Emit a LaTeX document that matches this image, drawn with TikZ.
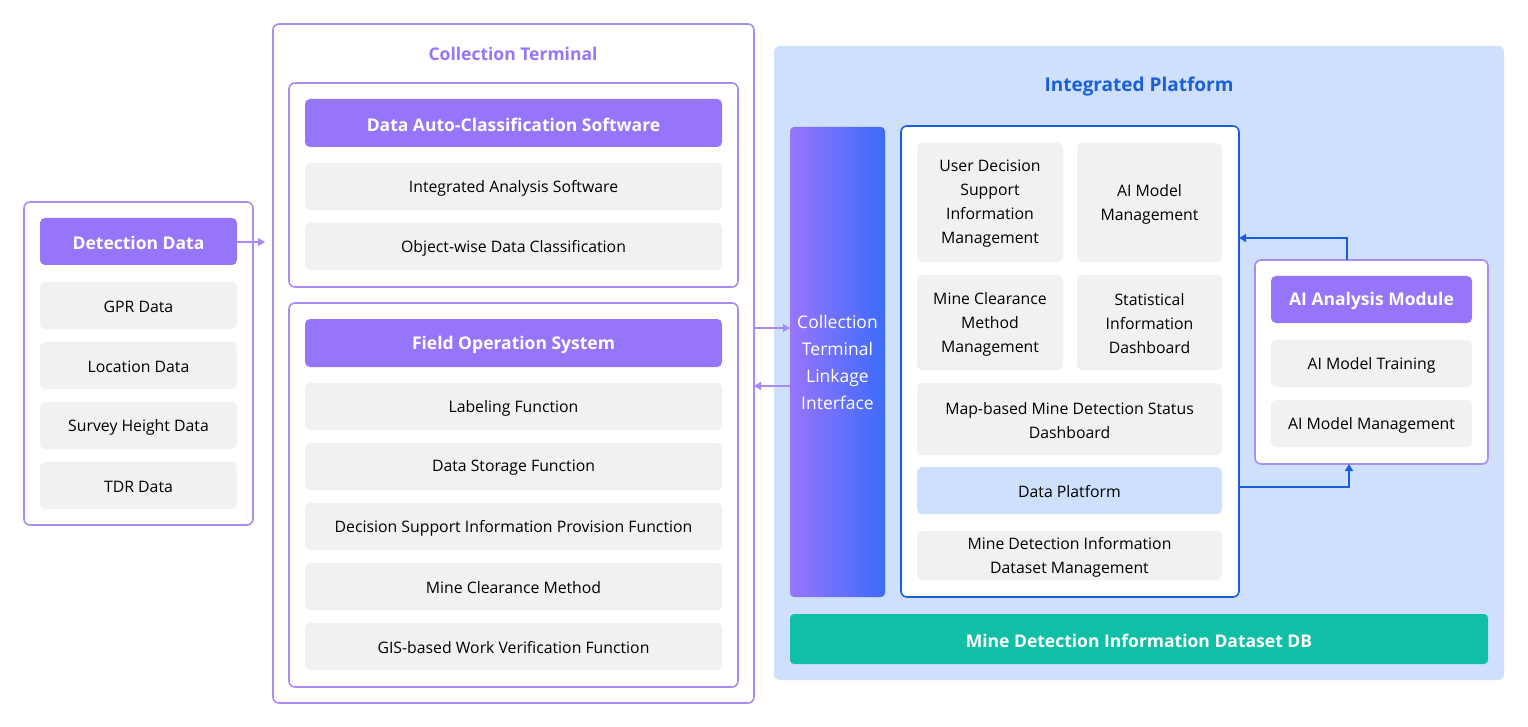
\documentclass[tikz,border=0pt]{standalone}
\usepackage{fontspec}
\setmainfont{Open Sans}
\usetikzlibrary{arrows.meta}
\definecolor{pur}{HTML}{9775FA}
\definecolor{purb}{HTML}{A98BF7}
\definecolor{gry}{HTML}{F1F1F1}
\definecolor{lb}{HTML}{CFE0FD}
\definecolor{bl}{HTML}{1A5FD9}
\definecolor{blg}{HTML}{3D6BFB}
\definecolor{teal}{HTML}{0FC0A6}
\begin{document}
\begin{tikzpicture}[x=1pt,y=-1pt,
 frame/.style={draw=purb,line width=1.6pt,rounded corners=6pt,fill=white},
 head/.style={fill=pur,rounded corners=5pt,text=white,font=\fontsize{17.5}{20}\selectfont\bfseries},
 item/.style={fill=gry,rounded corners=5pt,font=\fontsize{15.8}{24}\selectfont,align=center},
 parr/.style={draw=purb,line width=1.4pt,-{Triangle[length=7pt,width=8pt]}},
 barr/.style={draw=bl,line width=1.6pt,-{Triangle[length=7pt,width=8pt]}}]
\newcommand\bx[7]{\path[#6] (#2,#3) rectangle (#4,#5) node[midway,align=center,yshift=-1.5pt] (#1) {#7};}
\path[fill=white] (0,0) rectangle (1528,727);
% left
\bx{lo}{24}{202}{253}{525}{frame}{}
\bx{dd}{40}{218}{237}{265}{head}{Detection Data}
\bx{gpr}{40}{282}{237}{329}{item}{GPR Data}
\bx{loc}{40}{342}{237}{389}{item}{Location Data}
\bx{sh}{40}{402}{237}{449}{item}{Survey Height Data}
\bx{tdr}{40}{462}{237}{509}{item}{TDR Data}
\coordinate (ddr) at (237,242);
\coordinate (ctl) at (265,242);
% collection terminal
\bx{ct}{273}{24}{754}{703}{frame}{}
\node[text=pur,font=\fontsize{17.5}{20}\selectfont\bfseries] (ctt) at (513,54) {Collection Terminal};
\bx{i1}{289}{83}{738}{287}{frame}{}
\bx{dac}{305}{99}{722}{147}{head}{Data Auto-Classification Software}
\bx{ias}{305}{163}{722}{210}{item}{Integrated Analysis Software}
\bx{owd}{305}{223}{722}{270}{item}{Object-wise Data Classification}
\bx{i2}{289}{303}{738}{687}{frame}{}
\bx{fos}{305}{319}{722}{367}{head}{Field Operation System}
\bx{lf}{305}{383}{722}{430}{item}{Labeling Function}
\bx{dsf}{305}{443}{722}{490}{item}{Data Storage Function}
\bx{dsi}{305}{503}{722}{550}{item}{Decision Support Information Provision Function}
\bx{mcm}{305}{563}{722}{610}{item}{Mine Clearance Method}
\bx{gis}{305}{623}{722}{670}{item}{GIS-based Work Verification Function}
% integrated platform
\bx{ip}{774}{46}{1504}{680}{fill=lb,rounded corners=6pt}{}
\node[text=bl,font=\fontsize{19}{22}\selectfont\bfseries] (ipt) at (1139,87) {Integrated Platform};
\shade[left color=pur,right color=blg,rounded corners=4pt] (790,127) rectangle (885,597);
\node[text=white,font=\fontsize{17.5}{27}\selectfont,align=center] (li) at (837.5,362) {Collection\\Terminal\\Linkage\\Interface};
\bx{pl}{901}{126}{1239}{597}{draw=bl,line width=1.6pt,rounded corners=6pt,fill=white}{}
\bx{ud}{917}{143}{1063}{262}{item}{User Decision\\Support\\Information\\Management}
\bx{am}{1077}{143}{1222}{262}{item}{AI Model\\Management}
\bx{mc}{917}{275}{1063}{370}{item}{Mine Clearance\\Method\\Management}
\bx{sid}{1077}{275}{1222}{370}{item}{Statistical\\Information\\Dashboard}
\bx{map}{917}{383}{1222}{455}{item}{Map-based Mine Detection Status\\Dashboard}
\bx{dp}{917}{467}{1222}{514}{item,fill=lb}{Data Platform}
\bx{mdi}{917}{531}{1222}{580}{item}{Mine Detection Information\\Dataset Management}
\bx{db}{790}{614}{1488}{664}{fill=teal,rounded corners=4pt,text=white,font=\fontsize{17.5}{20}\selectfont\bfseries}{Mine Detection Information Dataset DB}
% AI module
\bx{ai}{1255}{260}{1488}{464}{frame}{}
\bx{aih}{1271}{276}{1472}{323}{head}{AI Analysis Module}
\bx{amt}{1271}{340}{1472}{387}{item}{AI Model Training}
\bx{amm}{1271}{400}{1472}{447}{item}{AI Model Management}
% arrows
\draw[parr] (ddr) -- (ctl);
\draw[parr] (754,328) -- (790,328);
\draw[parr] (790,386) -- (754,386);
\draw[barr] (1347,260) -- (1347,238) -- (1239,238);
\draw[barr] (1239,487) -- (1349,487) -- (1349,464);
\end{tikzpicture}
\end{document}
